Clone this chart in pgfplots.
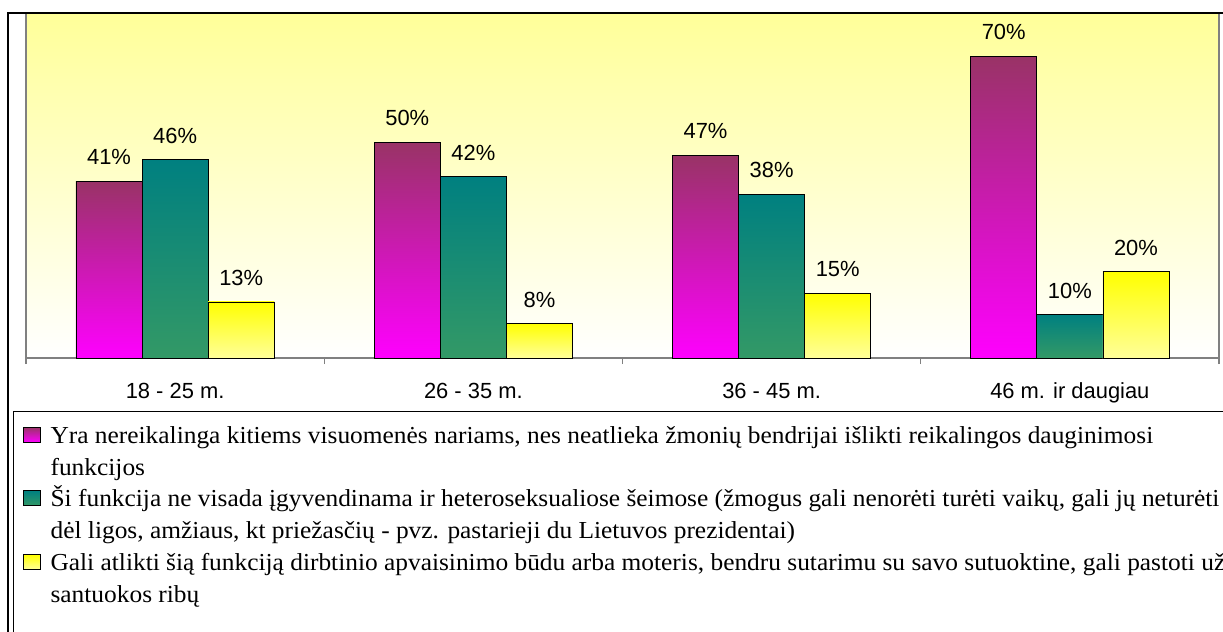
\documentclass[border=0pt]{standalone}
\usepackage{pgfplots}
\pgfplotsset{compat=1.18}
\usepackage{fontspec}
\setmainfont{Liberation Serif}
\newfontfamily\arial{Liberation Sans}
\newfontfamily\legfont{Liberation Serif}[FakeStretch=1.04]
\definecolor{magtop}{RGB}{153,51,102}
\definecolor{magbot}{RGB}{255,0,255}
\definecolor{teatop}{RGB}{0,128,128}
\definecolor{teabot}{RGB}{51,153,102}
\definecolor{yeltop}{RGB}{255,255,0}
\definecolor{yelbot}{RGB}{255,255,153}
\definecolor{bgtop}{RGB}{255,255,153}
\definecolor{axgray}{RGB}{128,128,128}
\pgfplotsset{
  barbase/.style={ybar, bar width=0.2217, draw=black, line width=0.8bp, forget plot},
  serA/.style={barbase, bar shift=-0.2217, top color=magtop, bottom color=magbot,
    every node near coord/.append style={xshift=-66.12bp}},
  serB/.style={barbase, bar shift=0, top color=teatop, bottom color=teabot},
  serC/.style={barbase, bar shift=0.2217, top color=yeltop, bottom color=yelbot,
    every node near coord/.append style={xshift=66.12bp}},
  legsq/.style={legend image code/.code={\draw[draw=black,line width=0.8bp,#1] (0bp,1bp) rectangle (16.6bp,16bp);}},
}
\begin{document}
\begin{tikzpicture}
\useasboundingbox (0,0) rectangle (1223bp,-632bp);
\clip (0,0) rectangle (1223bp,-632bp);
\fill[white] (0,0) rectangle (1223bp,-632bp);
\begin{axis}[
  at={(26bp,-358bp)}, anchor=south west,
  scale only axis, width=1193bp, height=345bp,
  xmin=-0.5, xmax=3.5, ymin=0, ymax=80,
  axis line style={draw=axgray, line width=1.2bp},
  axis background/.style={top color=bgtop, bottom color=white},
  xtick={0,1,2,3},
  xticklabels={18 - 25 m., 26 - 35 m., 36 - 45 m., 46 m. ir daugiau},
  minor xtick={-0.5,0.5,1.5,2.5,3.5},
  major tick length=0pt, minor tick length=6bp,
  tick align=outside,
  xtick pos=bottom,
  ytick=\empty,
  tick style={draw=axgray, line width=1.2bp},
  xticklabel style={font=\arial\fontsize{22}{26}\selectfont, anchor=base, inner sep=0pt, yshift=-40.5bp},
  /pgf/number format/assume math mode=true,
  nodes near coords={\pgfmathprintnumber{\pgfplotspointmeta}\%},
  nodes near coords style={font=\arial\fontsize{22}{26}\selectfont, anchor=base, inner sep=0pt, yshift=16.5bp, text=black},
  legend style={at={(-0.01115,-0.15275)}, anchor=north west, draw=black, line width=1bp, fill=white,
    inner xsep=10bp, inner ysep=10bp, row sep=0pt, column sep=10bp,
    font=\legfont\fontsize{24.5}{31.8}\selectfont,
    nodes={inner sep=0pt, text height=22bp, text depth=9.8bp, anchor=base west},
    cells={anchor=base west}},
]
% series 1
\addplot[serA] coordinates {(0,41)};
\addplot[serA] coordinates {(1,50)};
\addplot[serA] coordinates {(2,47)};
\addplot[serA] coordinates {(3,70)};
% series 2
\addplot[serB] coordinates {(0,46)};
\addplot[serB] coordinates {(1,42)};
\addplot[serB] coordinates {(2,38)};
\addplot[serB] coordinates {(3,10)};
% series 3
\addplot[serC] coordinates {(0,13)};
\addplot[serC] coordinates {(1,8)};
\addplot[serC] coordinates {(2,15)};
\addplot[serC] coordinates {(3,20)};
% legend
\addlegendimage{legsq={top color=magtop, bottom color=magbot}}
\addlegendentry{Yra nereikalinga kitiems visuomenės nariams, nes neatlieka žmonių bendrijai išlikti reikalingos dauginimosi}
\addlegendimage{empty legend}
\addlegendentry{funkcijos}
\addlegendimage{legsq={top color=teatop, bottom color=teabot}}
\addlegendentry{Ši funkcija ne visada įgyvendinama ir heteroseksualiose šeimose (žmogus gali nenorėti turėti vaikų, gali jų neturėti}
\addlegendimage{empty legend}
\addlegendentry{dėl ligos, amžiaus, kt priežasčių - pvz. pastarieji du Lietuvos prezidentai)}
\addlegendimage{legsq={top color=yeltop, bottom color=yelbot}}
\addlegendentry{Gali atlikti šią funkciją dirbtinio apvaisinimo būdu arba moteris, bendru sutarimu su savo sutuoktine, gali pastoti už}
\addlegendimage{empty legend}
\addlegendentry{santuokos ribų}
\addlegendimage{empty legend}
\addlegendentry{~}
\end{axis}
\draw[black, line width=2bp] (8bp,-13bp) rectangle (1300bp,-700bp);
\end{tikzpicture}
\end{document}
